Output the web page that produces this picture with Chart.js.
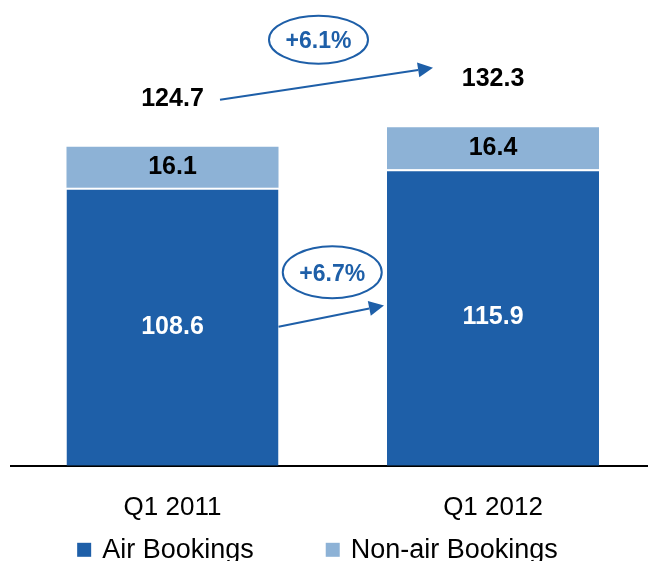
<!DOCTYPE html>
<html>
<head>
<meta charset="utf-8">
<script src="https://cdn.jsdelivr.net/npm/chart.js@4.4.0/dist/chart.umd.min.js"></script>
<style>
  html, body { margin: 0; padding: 0; background: #fff; }
  #wrap { width: 648px; height: 561px; }
</style>
</head>
<body>
<div id="wrap"><canvas id="chart"></canvas></div>
<script>
const categories = ['Q1 2011', 'Q1 2012'];
const airBookings = [108.6, 115.9];
const nonAirBookings = [16.1, 16.4];
const totals = [124.7, 132.3];
const totalGrowth = '+6.1%';
const airGrowth = '+6.7%';

const DARK = '#1e5fa8';
const LIGHT = '#8db2d6';
const FONT = '"Liberation Sans", Arial, Helvetica, sans-serif';

function drawArrow(ctx, x1, y1, x2, y2) {
  const a = Math.atan2(y2 - y1, x2 - x1);
  const len = 15, half = 7.5;
  const bx = x2 - len * Math.cos(a), by = y2 - len * Math.sin(a);
  ctx.beginPath();
  ctx.moveTo(x1, y1);
  ctx.lineTo(bx, by);
  ctx.stroke();
  ctx.beginPath();
  ctx.moveTo(x2, y2);
  ctx.lineTo(bx + half * Math.sin(a), by - half * Math.cos(a));
  ctx.lineTo(bx - half * Math.sin(a), by + half * Math.cos(a));
  ctx.closePath();
  ctx.fill();
}

function drawBubble(ctx, cx, cy, rx, ry, text) {
  ctx.beginPath();
  ctx.ellipse(cx, cy, rx, ry, 0, 0, Math.PI * 2);
  ctx.stroke();
  ctx.font = 'bold 23px ' + FONT;
  ctx.fillText(text, cx, cy + 2);
}

// value labels, totals and the growth arrows
const barLabels = {
  id: 'barLabels',
  afterDatasetsDraw(chart) {
    const ctx = chart.ctx;
    const air = chart.getDatasetMeta(0).data;
    const non = chart.getDatasetMeta(1).data;
    ctx.save();
    ctx.textAlign = 'center';
    ctx.textBaseline = 'middle';
    ctx.font = 'bold 25px ' + FONT;
    air.forEach((bar, i) => {
      ctx.fillStyle = '#fff';
      ctx.fillText(airBookings[i].toFixed(1), bar.x, (bar.y + bar.base) / 2);
      const top = non[i];
      ctx.fillStyle = '#000';
      ctx.fillText(nonAirBookings[i].toFixed(1), top.x, (top.y + top.base) / 2);
      ctx.fillText(totals[i].toFixed(1), top.x, top.y - 48);
    });

    ctx.strokeStyle = DARK;
    ctx.fillStyle = DARK;
    ctx.lineWidth = 2;

    // total growth
    const t1x = air[0].x + 47.5, t1y = non[0].y - 47;
    const t2x = non[1].x - 60, t2y = non[1].y - 59.5;
    drawArrow(ctx, t1x, t1y, t2x, t2y);
    drawBubble(ctx, (t1x + t2x) / 2 - 8, (t1y + t2y) / 2 - 44, 49.5, 24, totalGrowth);

    // air growth
    const a1x = air[0].x + air[0].width / 2, a1y = (air[0].y + air[0].base) / 2;
    const a2x = air[1].x - air[1].width / 2 - 3, a2y = (air[1].y + air[1].base) / 2 - 12;
    drawArrow(ctx, a1x, a1y, a2x, a2y);
    drawBubble(ctx, (a1x + a2x) / 2 + 1, (a1y + a2y) / 2 - 44, 49.5, 26, airGrowth);
    ctx.restore();
  }
};

// legend under the axis labels
const bottomLegend = {
  id: 'bottomLegend',
  afterDraw(chart) {
    const ctx = chart.ctx;
    const sets = chart.data.datasets;
    const box = 14, gap = 11, itemGap = 72;
    ctx.save();
    ctx.font = '27px ' + FONT;
    ctx.textBaseline = 'middle';
    ctx.textAlign = 'left';
    const widths = sets.map(ds => ctx.measureText(ds.label).width);
    const total = widths.reduce((s, w) => s + box + gap + w, 0) + itemGap * (sets.length - 1);
    let x = 317.5 - total / 2;
    const y = chart.chartArea.bottom + 84;
    sets.forEach((ds, i) => {
      ctx.fillStyle = ds.backgroundColor;
      ctx.fillRect(x, y - box / 2, box, box);
      ctx.fillStyle = '#000';
      ctx.fillText(ds.label, x + box + gap, y + 1);
      x += box + gap + widths[i] + itemGap;
    });
    ctx.restore();
  }
};

new Chart(document.getElementById('chart'), {
  type: 'bar',
  data: {
    datasets: [
      {
        label: 'Air Bookings',
        data: airBookings.map((v, i) => ({ x: i, y: v })),
        backgroundColor: DARK,
        borderColor: '#fff',
        borderWidth: { top: 2, left: 0, right: 0, bottom: 0 },
        borderSkipped: false,
        barPercentage: 0.6615,
        categoryPercentage: 1
      },
      {
        label: 'Non-air Bookings',
        data: nonAirBookings.map((v, i) => ({ x: i, y: v })),
        backgroundColor: LIGHT,
        borderWidth: 0,
        barPercentage: 0.6615,
        categoryPercentage: 1
      }
    ]
  },
  options: {
    responsive: true,
    maintainAspectRatio: false,
    animation: false,
    layout: { padding: { left: 11, right: 0, top: 0, bottom: 20 } },
    plugins: {
      legend: { display: false },
      tooltip: { enabled: false }
    },
    scales: {
      x: {
        type: 'linear',
        stacked: true,
        offset: false,
        min: -0.5039,
        max: 1.4836,
        grid: { display: false },
        border: { display: true, color: '#000', width: 2 },
        afterBuildTicks: scale => { scale.ticks = categories.map((c, i) => ({ value: i })); },
        ticks: {
          callback: v => categories[v],
          font: { family: FONT, size: 26 },
          color: '#000',
          padding: 18,
          maxRotation: 0,
          autoSkip: false
        }
      },
      y: { stacked: true, display: false, min: 0, max: 182 }
    }
  },
  plugins: [barLabels, bottomLegend]
});
</script>
</body>
</html>
